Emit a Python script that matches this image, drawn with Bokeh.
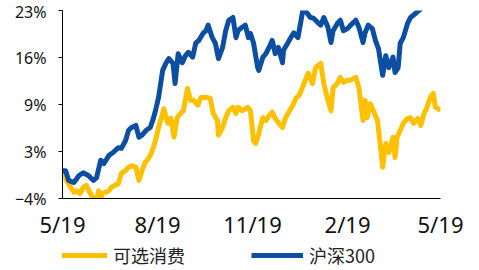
from bokeh.plotting import figure
from bokeh.models import FixedTicker, Legend, LegendItem, Range1d
from bokeh.layouts import column
from bokeh.embed import file_html
from bokeh.resources import INLINE

# ---- data (cumulative return, %; x = days since 2019-05-19) ----
cd_day = [0, 4, 8, 11, 14, 17, 20, 23, 27, 30, 33, 35, 37, 38, 42, 45, 47, 51, 54, 57,
          61, 64, 67, 71, 74, 77, 80, 83, 86, 90, 93, 97, 98, 102, 105, 108, 111, 114, 117,
          121, 124, 127, 131, 134, 139, 143, 146, 150, 151, 155, 158, 161, 165, 168, 170,
          174, 179, 182, 185, 187, 190, 194, 197, 200, 203, 206, 209, 213, 216, 219, 223,
          226, 229, 232, 235, 238, 242, 245, 250, 253, 257, 260, 262, 266, 269, 272, 276,
          279, 284, 287, 291, 293, 295, 298, 301, 305, 308, 310, 313, 316, 320, 322, 324,
          327, 330, 334, 337, 340, 344, 347, 350, 353, 356, 359, 361, 364, 366]
cd_val = [0.0, -1.4, -2.4, -3.1, -2.9, -3.3, -2.4, -2.1, -3.3, -4.0, -4.3, -2.9, -4.3, -3.3,
          -3.1, -2.9, -2.4, -2.1, -1.9, -0.4, 0.0, 0.5, 0.7, 0.5, -1.4, 0.0, 1.2, 1.7, 2.5,
          4.3, 6.2, 8.2, 8.9, 6.8, 7.5, 4.8, 7.6, 8.2, 8.6, 11.8, 10.1, 10.1, 9.4, 10.5, 10.5,
          10.4, 8.2, 7.2, 5.1, 6.2, 7.6, 8.6, 9.1, 8.2, 9.1, 8.6, 9.1, 8.6, 4.3, 3.9, 5.3,
          7.6, 7.2, 7.9, 8.4, 7.5, 6.9, 6.2, 7.6, 8.4, 9.4, 10.4, 10.8, 11.8, 13.0, 14.0,
          12.5, 14.8, 15.4, 12.5, 10.1, 8.6, 11.9, 12.5, 13.4, 12.7, 13.0, 13.0, 13.4, 11.9,
          7.2, 10.1, 7.6, 9.6, 8.6, 7.2, 3.3, 0.5, 3.9, 2.6, 4.8, 1.9, 4.8, 5.8, 6.8, 7.5,
          7.6, 6.8, 7.5, 6.5, 8.2, 9.1, 10.5, 11.1, 9.1, 8.9, 8.6]

hs_day = [0, 3, 6, 11, 16, 20, 25, 30, 33, 37, 40, 45, 49, 54, 57, 61, 64, 67, 71, 74, 77,
          81, 85, 88, 90, 93, 97, 100, 103, 107, 109, 112, 116, 119, 122, 126, 129, 132,
          136, 139, 141, 145, 148, 151, 155, 158, 161, 165, 168, 170, 174, 177, 180, 182,
          185, 189, 190, 194, 197, 200, 203, 206, 209, 213, 214, 218, 221, 224, 228, 231,
          233, 237, 240, 243, 247, 250, 253, 257, 260, 262, 266, 269, 272, 276, 279, 284,
          287, 291, 293, 296, 300, 303, 306, 310, 313, 316, 320, 322, 325, 327, 330, 334,
          337, 342, 345, 349, 352, 358, 366]
hs_val = [0.0, 0.0, -1.4, -1.7, -0.7, -0.3, -0.7, -1.4, -1.0, 1.5, 1.0, 2.2, 2.6, 3.3, 3.2,
          4.3, 5.8, 6.2, 6.5, 4.8, 5.1, 5.8, 6.2, 7.5, 8.6, 10.5, 14.4, 15.4, 16.1, 15.4,
          12.5, 16.8, 15.5, 16.5, 17.0, 16.3, 18.3, 18.7, 19.7, 20.1, 20.9, 19.1, 18.3, 16.1,
          17.7, 20.1, 21.6, 22.0, 19.1, 20.1, 20.6, 20.9, 19.1, 19.7, 18.3, 14.8, 14.4, 16.3,
          16.8, 17.7, 18.7, 16.8, 17.7, 15.5, 17.3, 18.3, 19.1, 19.8, 19.1, 21.6, 23.3, 22.6,
          22.0, 21.9, 21.3, 20.9, 22.0, 20.6, 18.4, 20.1, 21.1, 21.6, 20.1, 20.4, 20.9, 21.6,
          20.6, 18.4, 19.8, 20.9, 20.4, 18.7, 17.5, 13.7, 16.5, 14.8, 16.3, 14.1, 14.8, 18.3,
          19.1, 21.1, 22.0, 22.6, 23.0, 23.5, 24.2, 24.8, 25.0]

tick_days = [0, 92, 184, 276, 366]
tick_labels = ["5/19", "8/19", "11/19", "2/19", "5/19"]
y_ticks = [-4, 2.75, 9.5, 16.25, 23]
y_labels = ["\u22124%", "3%", "9%", "16%", "23%"]

names = ["可选消费", "沪深300"]
colors = ["#FFC000", "#0B4EA2"]
LW = 5

p = figure(frame_width=378, frame_height=188, output_backend="svg", toolbar_location=None,
           x_range=Range1d(0, 366), y_range=Range1d(-4, 23),
           min_border_left=62, min_border_right=31, min_border_top=10, min_border_bottom=42)
p.outline_line_color = None
p.xgrid.grid_line_color = None
p.ygrid.grid_line_color = None

p.line(cd_day, cd_val, line_color=colors[0], line_width=LW, line_join="round")
p.line(hs_day, hs_val, line_color=colors[1], line_width=LW, line_join="round")

p.xaxis.ticker = FixedTicker(ticks=tick_days)
p.xaxis.major_label_overrides = {d: l for d, l in zip(tick_days, tick_labels)}
p.xaxis.major_tick_out = 0
p.xaxis.major_tick_in = 0
p.xaxis.minor_tick_out = 0
p.xaxis.minor_tick_in = 0
p.xaxis.axis_line_color = "black"
p.xaxis.major_label_text_font = "Noto Sans"
p.xaxis.major_label_text_font_size = "22px"
p.xaxis.major_label_text_color = "#111111"
p.xaxis.major_label_standoff = 10

p.yaxis.ticker = FixedTicker(ticks=y_ticks)
p.yaxis.major_label_overrides = {t: l for t, l in zip(y_ticks, y_labels)}
p.yaxis.major_tick_out = 4
p.yaxis.major_tick_in = 0
p.yaxis.minor_tick_out = 0
p.yaxis.minor_tick_in = 0
p.yaxis.axis_line_color = "black"
p.yaxis.major_label_text_font = "Noto Sans"
p.yaxis.major_label_text_font_size = "16px"
p.yaxis.major_label_text_color = "#111111"
p.yaxis.major_label_standoff = 12

# legend strip below the chart (series drawn far outside its view, only the legend shows)
lg = figure(width=471, height=30, output_backend="svg", toolbar_location=None,
            x_range=Range1d(0, 366), y_range=Range1d(1000, 1001),
            x_axis_location=None, y_axis_location=None,
            min_border_left=0, min_border_right=0, min_border_top=0, min_border_bottom=0)
lg.grid.visible = False
lg.outline_line_color = None
k_cd = lg.line(cd_day, cd_val, line_color=colors[0], line_width=LW)
k_hs = lg.line(hs_day, hs_val, line_color=colors[1], line_width=LW)
legend = Legend(items=[LegendItem(label=names[0], renderers=[k_cd]),
                       LegendItem(label=names[1], renderers=[k_hs])],
                orientation="horizontal", location=(-7, 3),
                glyph_width=52, glyph_height=20, label_standoff=6, spacing=66,
                padding=0, margin=0, border_line_color=None, background_fill_alpha=0,
                label_text_font="Noto Sans CJK SC", label_text_font_size="18px",
                label_text_color="#222222")
lg.add_layout(legend, "center")

open("out.html", "w").write(file_html(column(p, lg, spacing=0), INLINE))
